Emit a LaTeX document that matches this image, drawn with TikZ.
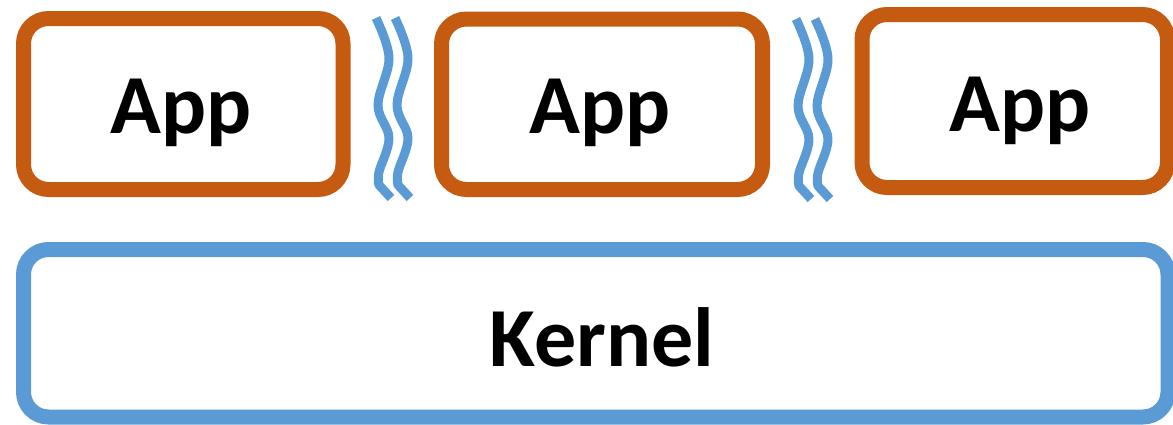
\documentclass[tikz,border=0pt]{standalone}
\usepackage{fontspec}
\setmainfont{Carlito}
\definecolor{apporange}{HTML}{C55A11}
\definecolor{kernelblue}{HTML}{5B9BD5}
\begin{document}
\begin{tikzpicture}[x=1pt,y=-1pt,
  box/.style={draw, line width=15pt, rounded corners=25pt, inner sep=0pt, outer sep=0pt},
  appbox/.style={box, draw=apporange},
  kernelbox/.style={box, draw=kernelblue},
  boxlabel/.style={font=\bfseries\fontsize{84}{84}\selectfont, anchor=base, inner sep=0pt},
  wave/.style={draw=kernelblue, line width=9pt, line join=round}]
\useasboundingbox (0,0) rectangle (1173,424);

% application boxes
\node[appbox, minimum width=319.5pt, minimum height=171pt] (app1) at (183.25,104) {};
\node[appbox, minimum width=321pt, minimum height=170.5pt] (app2) at (602,104.25) {};
\node[appbox, minimum width=305.5pt, minimum height=173pt] (app3) at (1014.75,101) {};

% kernel box
\node[kernelbox, minimum width=1144.5pt, minimum height=167.5pt] (kernel) at (595.75,333.25) {};

% labels
\node[boxlabel] (app1label) at (181.5,133.3) {App};
\node[boxlabel] (app2label) at (600.5,133.3) {App};
\node[boxlabel] (app3label) at (1020,131) {App};
\node[boxlabel] (kernellabel) at (602,366.7) {Kernel};

% wavy separators between applications
\foreach \dx/\dy in {0/0, 420/1} {
  \foreach \off in {0, 19} {
    \draw[wave, shift={(\dx+\off,\dy)}]
      plot[smooth, tension=0.6] coordinates {(376,18) (389,58) (378,105) (389,138) (379,172) (379,185)}
      -- (391,198);
  }
}
\end{tikzpicture}
\end{document}
